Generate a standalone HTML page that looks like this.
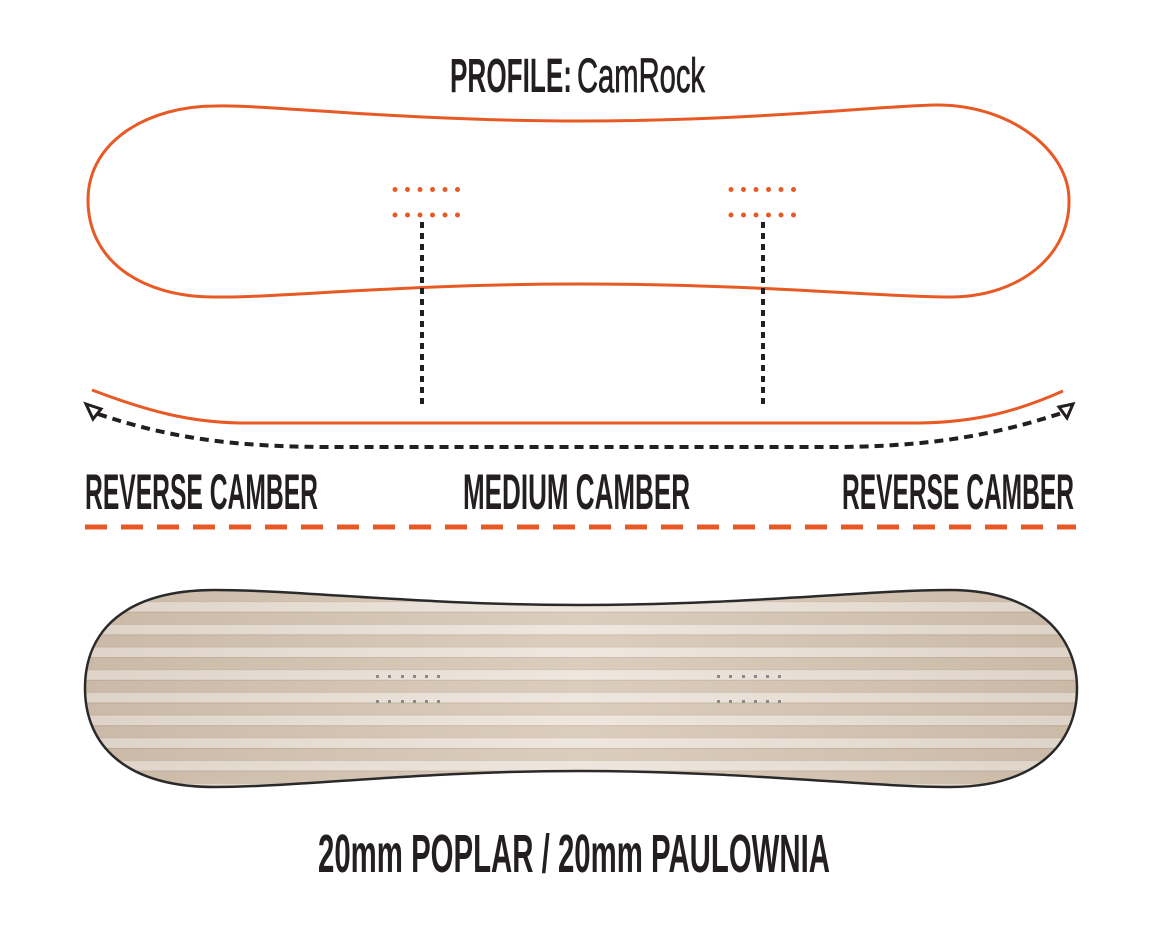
<!DOCTYPE html>
<html><head><meta charset="utf-8"><style>
html,body{margin:0;padding:0;background:#fff;}
svg{display:block;}
text{font-family:"Liberation Sans",sans-serif;font-weight:bold;fill:#231f20;}
</style></head><body>
<svg width="1162" height="949" viewBox="0 0 1162 949" xmlns="http://www.w3.org/2000/svg">
<defs>
<clipPath id="bd"><path d="M215,590 C300,590 420,605 580,605 C740,605 870,590 950,590 C1035,590 1077,635 1077,688 C1077,745 1035,787 950,787 C870,787 740,771 580,771 C420,771 300,787 215,787 C125,787 85,745 85,688 C85,631 125,590 215,590 Z"/></clipPath>
<pattern id="st" x="0" y="589" width="40" height="22.7" patternUnits="userSpaceOnUse">
<rect width="40" height="22.7" fill="#ece3d9"/>
<rect y="0" width="40" height="12" fill="#d5c4b1"/>
<rect y="0" width="40" height="1" fill="#c4b29e"/>
<rect y="12" width="40" height="1" fill="#c9b9a7"/>
</pattern>
<linearGradient id="sh" x1="0" x2="1" y1="0" y2="0">
<stop offset="0" stop-color="#8a7a68" stop-opacity="0.15"/>
<stop offset="0.5" stop-color="#fff" stop-opacity="0.15"/>
<stop offset="1" stop-color="#8a7a68" stop-opacity="0.15"/>
</linearGradient>
</defs>

<text x="450" y="92" font-size="48" textLength="122" lengthAdjust="spacingAndGlyphs">PROFILE:</text>
<text x="577" y="92" font-size="48" style="font-weight:normal;stroke:#231f20;stroke-width:0.8" textLength="128" lengthAdjust="spacingAndGlyphs">CamRock</text>

<path d="M215,106 C260,104 400,121 580,121 C760,121 900,104 940,105 C1010,106 1069,150 1069,200 C1070,255 1020,297 950,297 C880,297 760,284 580,284 C400,284 280,298 215,297 C140,297 88,260 88,200 C88,140 150,106 215,106 Z" fill="none" stroke="#e85a25" stroke-width="3"/>

<g fill="#e85a25">
<circle cx="395" cy="189.5" r="2.5"/><circle cx="407.5" cy="189.5" r="2.5"/><circle cx="420" cy="189.5" r="2.5"/><circle cx="432.5" cy="189.5" r="2.5"/><circle cx="445" cy="189.5" r="2.5"/><circle cx="457.5" cy="189.5" r="2.5"/>
<circle cx="395" cy="215" r="2.5"/><circle cx="407.5" cy="215" r="2.5"/><circle cx="420" cy="215" r="2.5"/><circle cx="432.5" cy="215" r="2.5"/><circle cx="445" cy="215" r="2.5"/><circle cx="457.5" cy="215" r="2.5"/>
<circle cx="731" cy="189.5" r="2.5"/><circle cx="743.5" cy="189.5" r="2.5"/><circle cx="756" cy="189.5" r="2.5"/><circle cx="768.5" cy="189.5" r="2.5"/><circle cx="781" cy="189.5" r="2.5"/><circle cx="793.5" cy="189.5" r="2.5"/>
<circle cx="731" cy="215" r="2.5"/><circle cx="743.5" cy="215" r="2.5"/><circle cx="756" cy="215" r="2.5"/><circle cx="768.5" cy="215" r="2.5"/><circle cx="781" cy="215" r="2.5"/><circle cx="793.5" cy="215" r="2.5"/>
</g>

<line x1="422" y1="222" x2="422" y2="409" stroke="#231f20" stroke-width="4" stroke-dasharray="6,5"/>
<line x1="763" y1="222" x2="763" y2="409" stroke="#231f20" stroke-width="4" stroke-dasharray="6,5"/>

<path d="M92,390 C150,412 190,422 240,423 L920,423 C980,422 1020,410 1063,391" fill="none" stroke="#e85a25" stroke-width="3"/>

<path d="M98,414 C170,438 230,446 320,447 L840,447 C940,446 1000,433 1062,413" fill="none" stroke="#231f20" stroke-width="4" stroke-dasharray="9,6"/>
<polygon points="86,404 101,409 93,419" fill="#fff" stroke="#231f20" stroke-width="3" stroke-linejoin="miter"/>
<polygon points="1073,404 1059,407 1067,418" fill="#fff" stroke="#231f20" stroke-width="3" stroke-linejoin="miter"/>

<text x="85" y="509" font-size="50" textLength="233" lengthAdjust="spacingAndGlyphs">REVERSE CAMBER</text>
<text x="463" y="509" font-size="50" textLength="227" lengthAdjust="spacingAndGlyphs">MEDIUM CAMBER</text>
<text x="842" y="509" font-size="50" textLength="232" lengthAdjust="spacingAndGlyphs">REVERSE CAMBER</text>

<line x1="85" y1="527" x2="1076" y2="527" stroke="#e85a25" stroke-width="5" stroke-dasharray="22,14"/>

<g clip-path="url(#bd)">
<rect x="80" y="585" width="1000" height="210" fill="url(#st)"/>
<rect x="80" y="585" width="1000" height="210" fill="url(#sh)"/>
</g>
<path d="M215,590 C300,590 420,605 580,605 C740,605 870,590 950,590 C1035,590 1077,635 1077,688 C1077,745 1035,787 950,787 C870,787 740,771 580,771 C420,771 300,787 215,787 C125,787 85,745 85,688 C85,631 125,590 215,590 Z" fill="none" stroke="#2a2a2a" stroke-width="2.5"/>
<g fill="#8a8a8a">
<rect x="376" y="675" width="3" height="3"/><rect x="388" y="675" width="3" height="3"/><rect x="401" y="675" width="3" height="3"/><rect x="413" y="675" width="3" height="3"/><rect x="425" y="675" width="3" height="3"/><rect x="437" y="675" width="3" height="3"/>
<rect x="376" y="700" width="3" height="3"/><rect x="388" y="700" width="3" height="3"/><rect x="401" y="700" width="3" height="3"/><rect x="413" y="700" width="3" height="3"/><rect x="425" y="700" width="3" height="3"/><rect x="437" y="700" width="3" height="3"/>
<rect x="717" y="675" width="3" height="3"/><rect x="729" y="675" width="3" height="3"/><rect x="742" y="675" width="3" height="3"/><rect x="754" y="675" width="3" height="3"/><rect x="766" y="675" width="3" height="3"/><rect x="778" y="675" width="3" height="3"/>
<rect x="717" y="700" width="3" height="3"/><rect x="729" y="700" width="3" height="3"/><rect x="742" y="700" width="3" height="3"/><rect x="754" y="700" width="3" height="3"/><rect x="766" y="700" width="3" height="3"/><rect x="778" y="700" width="3" height="3"/>
</g>

<text x="318" y="872" font-size="54" textLength="512" lengthAdjust="spacingAndGlyphs">20mm POPLAR / 20mm PAULOWNIA</text>
</svg>
</body></html>
